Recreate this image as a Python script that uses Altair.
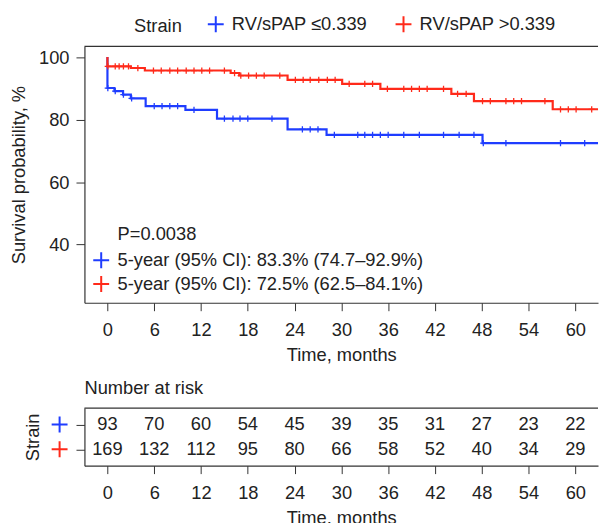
import altair as alt
import pandas as pd

G1 = "RV/sPAP ≤0.339"
G2 = "RV/sPAP >0.339"
BLUE = "#1f3dff"
RED = "#ff2a1a"
TXT = "#222222"
FRAME = "#333333"
FONT = "Liberation Sans"
FS = 18.4
W = 517

# Kaplan-Meier step curves (time in months, survival %)
blue_t = [0, 0, 0.9, 2.0, 3.0, 4.9, 10.0, 14.05, 23.1, 28.1, 48.1, 66.0]
blue_s = [100, 90.1, 89.1, 88.0, 86.8, 84.3, 83.1, 80.3, 76.9, 75.1, 72.5, 72.5]
red_t = [0, 0, 3.0, 4.8, 15.8, 16.9, 23.1, 30.1, 35.0, 44.1, 47.0, 57.1, 66.0]
red_s = [100, 97.0, 96.5, 95.7, 94.9, 94.1, 92.7, 91.4, 89.8, 88.2, 85.9, 83.3, 83.3]

# censoring times
blue_cens = [0.05, 1.0, 2.05, 3.1, 6.0, 7.0, 8.0, 9.0, 11.1, 15.0, 16.1, 17.0, 18.0,
             21.1, 25.0, 26.0, 27.0, 29.1, 32.1, 33.0, 34.0, 35.0, 36.0, 38.0, 40.0,
             43.1, 45.1, 47.0, 48.2, 51.1, 58.1, 61.2]
red_cens = [0.05, 1.0, 1.5, 2.05, 2.7, 3.9, 5.9, 6.9, 8.0, 9.0, 10.1, 11.1, 12.1, 13.1,
            15.0, 16.3, 17.1, 18.1, 19.1, 20.1, 22.1, 24.1, 25.1, 26.0, 27.1, 28.2,
            29.2, 31.0, 33.0, 34.0, 35.9, 38.0, 39.0, 40.0, 41.0, 43.1, 44.9, 46.0,
            48.1, 49.1, 51.1, 52.1, 53.1, 56.1, 58.1, 59.1, 60.1, 62.1]

months = [0, 6, 12, 18, 24, 30, 36, 42, 48, 54, 60]
risk_blue = [93, 70, 60, 54, 45, 39, 35, 31, 27, 23, 22]
risk_red = [169, 132, 112, 95, 80, 66, 58, 52, 40, 34, 29]

annot_lines = ["P=0.0038",
               "5-year (95% CI): 83.3% (74.7–92.9%)",
               "5-year (95% CI): 72.5% (62.5–84.1%)"]
annot_t = [1.3, 1.3, 1.3]
annot_s = [43.3, 35.0, 27.4]
annot_sym_t = [-0.8, -0.8]
annot_sym_s = [35.0, 27.4]

CROSS = "M-1,0L1,0M0,-1L0,1"


def level(ts, ss, t):
    v = ss[0]
    for a, b in zip(ts, ss):
        if a <= t:
            v = b
    return v


def curve_df(ts, ss, g):
    return pd.DataFrame({"t": ts, "s": ss, "group": g, "i": list(range(len(ts)))})


def cens_df(cs, ts, ss):
    return pd.DataFrame({"t": cs, "s": [level(ts, ss, c) for c in cs]})


xscale = alt.Scale(domain=[-2.95, -2.95 + W / 7.85], nice=False, zero=False)
yscale = alt.Scale(domain=[21.4, 103.4], nice=False, zero=False)
cscale = alt.Scale(domain=[G1, G2], range=[BLUE, RED])

xaxis = alt.Axis(values=months, title="Time, months", tickSize=8, labelPadding=10,
                 titlePadding=7)
yaxis = alt.Axis(values=[40, 60, 80, 100], title="Survival probability, %",
                 tickSize=8.5, labelPadding=7, titlePadding=10)

legend = alt.Legend(title="Strain", orient="none", legendX=50, legendY=-32,
                    direction="horizontal", titleOrient="left",
                    symbolType=CROSS, symbolSize=256, symbolStrokeWidth=2,
                    titlePadding=24, columnPadding=24, labelOffset=7, padding=0)


def line_layer(df):
    return alt.Chart(df).mark_line(interpolate="step-after", strokeWidth=2.2, clip=True).encode(
        x=alt.X("t:Q", scale=xscale, axis=xaxis),
        y=alt.Y("s:Q", scale=yscale, axis=yaxis),
        color=alt.Color("group:N", scale=cscale, legend=legend),
        order=alt.Order("i:Q"),
    )


def cross_layer(df, color, size=40, sw=1.3):
    return alt.Chart(df).mark_point(shape=CROSS, filled=False, size=size,
                                    strokeWidth=sw, color=color, opacity=1, clip=True).encode(
        x=alt.X("t:Q", scale=xscale, axis=xaxis),
        y=alt.Y("s:Q", scale=yscale, axis=yaxis),
    )


blue_line = line_layer(curve_df(blue_t, blue_s, G1))
red_line = line_layer(curve_df(red_t, red_s, G2))
blue_c = cross_layer(cens_df(blue_cens, blue_t, blue_s), BLUE)
red_c = cross_layer(cens_df(red_cens, red_t, red_s), RED)

annot_df = pd.DataFrame({"t": annot_t, "s": annot_s, "label": annot_lines})
annot = alt.Chart(annot_df).mark_text(align="left", baseline="middle", fontSize=FS,
                                      font=FONT, color=TXT).encode(
    x=alt.X("t:Q", scale=xscale, axis=xaxis),
    y=alt.Y("s:Q", scale=yscale, axis=yaxis),
    text="label:N",
)
annot_b = alt.Chart(pd.DataFrame({"t": annot_sym_t[:1], "s": annot_sym_s[:1]})).mark_point(
    shape=CROSS, filled=False, size=256, strokeWidth=2, color=BLUE, opacity=1).encode(
    x=alt.X("t:Q", scale=xscale, axis=xaxis), y=alt.Y("s:Q", scale=yscale, axis=yaxis))
annot_r = alt.Chart(pd.DataFrame({"t": annot_sym_t[1:], "s": annot_sym_s[1:]})).mark_point(
    shape=CROSS, filled=False, size=256, strokeWidth=2, color=RED, opacity=1).encode(
    x=alt.X("t:Q", scale=xscale, axis=xaxis), y=alt.Y("s:Q", scale=yscale, axis=yaxis))

# top border of the frame (left/bottom come from the axis domains, right is off-page)
top_border = alt.Chart(pd.DataFrame({"k": [0]})).mark_rule(
    color=FRAME, strokeWidth=1.2).encode(y=alt.value(0))

top = alt.layer(blue_line, red_line, blue_c, red_c, annot, annot_b, annot_r,
                top_border).properties(width=W, height=258)

# risk table
risk_df = pd.DataFrame({
    "t": months + months,
    "group": [G1] * len(months) + [G2] * len(months),
    "n": risk_blue + risk_red,
})
ryscale = alt.Scale(domain=[G1, G2], padding=0.66)
ryaxis = alt.Axis(title="Strain", labels=False, tickSize=8.5, titlePadding=33)

risk_text = alt.Chart(risk_df).mark_text(fontSize=FS, font=FONT, color=TXT,
                                         baseline="middle").encode(
    x=alt.X("t:Q", scale=xscale, axis=xaxis),
    y=alt.Y("group:N", scale=ryscale, axis=ryaxis),
    text="n:Q",
)
rb = alt.Chart(pd.DataFrame({"group": [G1]})).mark_point(
    shape=CROSS, filled=False, size=256, strokeWidth=2, color=BLUE, opacity=1).encode(
    x=alt.value(-25), y=alt.Y("group:N", scale=ryscale, axis=ryaxis))
rr = alt.Chart(pd.DataFrame({"group": [G2]})).mark_point(
    shape=CROSS, filled=False, size=256, strokeWidth=2, color=RED, opacity=1).encode(
    x=alt.value(-25), y=alt.Y("group:N", scale=ryscale, axis=ryaxis))
risk_border = alt.Chart(pd.DataFrame({"k": [0]})).mark_rule(
    color=FRAME, strokeWidth=1.2).encode(y=alt.value(0))

bottom = alt.layer(risk_text, rb, rr, risk_border).properties(
    width=W, height=58,
    title=alt.TitleParams("Number at risk", anchor="start", frame="group", fontSize=FS,
                          fontWeight="normal", font=FONT, color=TXT, offset=10),
)

chart = alt.vconcat(top, bottom, spacing=13).properties(
    padding={"left": 9, "top": 13, "right": 0, "bottom": 0}
).configure_view(stroke="transparent").configure_axis(
    labelFont=FONT, titleFont=FONT, labelFontSize=FS, titleFontSize=FS,
    labelColor=TXT, titleColor=TXT, tickColor=FRAME, grid=False,
    domain=True, domainColor=FRAME, domainWidth=1.2,
    titleFontWeight="normal",
).configure_legend(
    labelFont=FONT, titleFont=FONT, labelFontSize=FS, titleFontSize=FS,
    labelColor=TXT, titleColor=TXT, titleFontWeight="normal",
)

chart.save("out.html", embed_options={"renderer": "svg", "actions": False})
